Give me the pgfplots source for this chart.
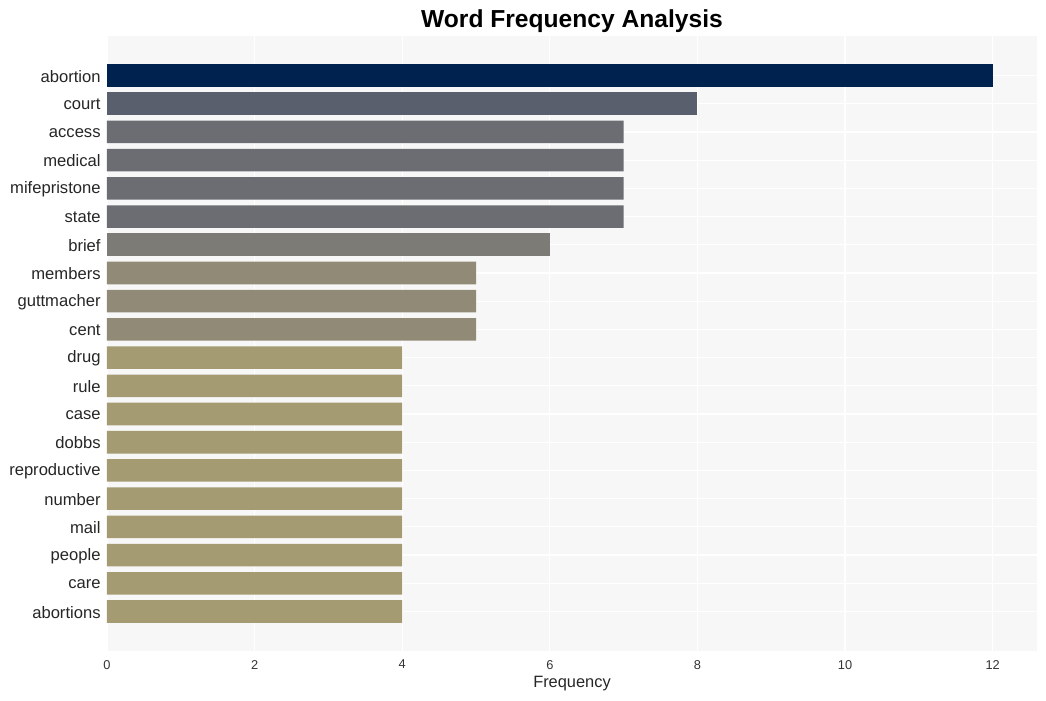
\documentclass[border=0pt]{standalone}
\usepackage{fontspec}
\setmainfont{Liberation Sans}
\usepackage{pgfplots}
\pgfplotsset{compat=1.18}

\definecolor{bgc}{RGB}{247,247,247}
\definecolor{c12}{HTML}{00224E}
\definecolor{c8}{HTML}{5A5F6E}
\definecolor{c7}{HTML}{6C6D72}
\definecolor{c6}{HTML}{7D7B76}
\definecolor{c5}{HTML}{918A77}
\definecolor{c4}{HTML}{A59B73}

\begin{document}
\begin{tikzpicture}
\begin{axis}[
    scale only axis,
    width=465pt, height=307.5pt,
    xbar, bar width=0.8, bar shift=0pt,
    y dir=reverse,
    xmin=0, xmax=12.6,
    ymin=-1.4, ymax=20.4,
    xtick={0,2,4,6,8,10,12},
    ytick={0,...,19},
    yticklabels={abortion,court,access,medical,mifepristone,state,brief,members,guttmacher,cent,drug,rule,case,dobbs,reproductive,number,mail,people,care,abortions},
    axis background/.style={fill=bgc},
    axis line style={draw=none},
    major tick length=0pt,
    xmajorgrids, ymajorgrids,
    grid style={white, line width=0.6pt},
    /pgf/number format/assume math mode=true,
    xticklabel style={font=\fontsize{6.4}{7}\selectfont, text=black!80, yshift=-1pt},
    yticklabel style={font=\fontsize{8.3}{10}\selectfont, text=black!85, anchor=east, inner sep=0pt, xshift=-3pt, yshift=-0.4pt},
    xlabel={Frequency},
    xlabel style={font=\fontsize{8.2}{10}\selectfont, text=black!85, at={(0.5,0)}, anchor=center, yshift=-16.5pt},
    every axis plot/.append style={draw=none},
]
\addplot[fill=c12] coordinates {(12,0)};
\addplot[fill=c8] coordinates {(8,1)};
\addplot[fill=c7] coordinates {(7,2) (7,3) (7,4) (7,5)};
\addplot[fill=c6] coordinates {(6,6)};
\addplot[fill=c5] coordinates {(5,7) (5,8) (5,9)};
\addplot[fill=c4] coordinates {(4,10) (4,11) (4,12) (4,13) (4,14) (4,15) (4,16) (4,17) (4,18) (4,19)};
\end{axis}
\node[anchor=base, font=\fontsize{12.3}{14}\selectfont\bfseries, inner sep=0pt] at ([yshift=4pt]current axis.north) {Word Frequency Analysis};
\pgfresetboundingbox
\path[use as bounding box] ([xshift=-53.5pt,yshift=-25pt]current axis.south west) rectangle ([xshift=4.5pt,yshift=18pt]current axis.north east);
\end{tikzpicture}
\end{document}
